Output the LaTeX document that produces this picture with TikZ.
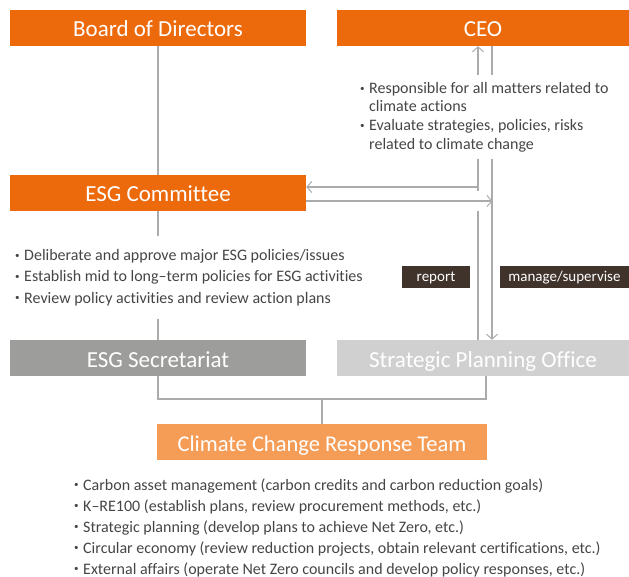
\documentclass[tikz,border=0pt]{standalone}
\usepackage{fontspec}
\setmainfont[Ligatures=NoCommon]{Carlito}
\usetikzlibrary{arrows.meta}
\definecolor{orangeA}{HTML}{EC6A0C}
\definecolor{orangeL}{HTML}{F59D57}
\definecolor{grayA}{HTML}{9D9D9B}
\definecolor{grayL}{HTML}{D0D0D0}
\definecolor{lineC}{HTML}{ABABAB}
\definecolor{txt}{HTML}{454545}
\definecolor{tagC}{HTML}{40332B}
\newcommand{\bdot}{\raisebox{2.6pt}{\fontsize{9}{10}\selectfont •}}
\begin{document}
\begin{tikzpicture}[x=1pt,y=-1pt,
  box/.style={minimum height=36pt, inner sep=0pt, text height=20pt, text depth=2pt, text=white, font=\fontsize{23}{26}\selectfont},
  tag/.style={minimum height=22pt, inner sep=0pt, text height=11pt, text depth=2pt, fill=tagC, text=white, font=\fontsize{15}{17}\selectfont},
  bul/.style={anchor=base west, inner sep=0pt, text=txt, font=\fontsize{16}{18}\selectfont},
  conn/.style={draw=lineC, line width=1.2pt},
  arr/.style={conn, -{Straight Barb[length=5pt,width=11pt,line width=1pt]}}]
\useasboundingbox (0,0) rectangle (629,577);
% boxes
\node[box, fill=orangeA, minimum width=296pt] (board) at (158,28) {Board of Directors};
\node[box, fill=orangeA, minimum width=292pt] (ceo) at (483,28) {CEO};
\node[box, fill=orangeA, minimum width=296pt] (esg) at (158,193) {ESG Committee};
\node[box, fill=grayA, minimum width=296pt] (sec) at (158,358) {ESG Secretariat};
\node[box, fill=grayL, minimum width=292pt] (spo) at (483,358) {Strategic Planning Office};
\node[box, fill=orangeL, minimum width=330pt, font=\fontsize{22.5}{26}\selectfont] (clim) at (322,442) {Climate Change Response Team};
% tags
\node[tag, minimum width=68pt] (rep) at (436,277) {report};
\node[tag, minimum width=129pt] (man) at (564.5,277) {manage/supervise};
% CEO bullets
\node[bul] (c1) at (360,94) {\bdot};
\node[bul] (c1t) at (369,94) {Responsible for all matters related to};
\node[bul] (c1u) at (369,112) {climate actions};
\node[bul] (c2) at (360,131) {\bdot};
\node[bul] (c2t) at (369,131) {Evaluate strategies, policies, risks};
\node[bul] (c2u) at (369,149.5) {related to climate change};
% ESG committee bullets
\node[bul] (e1) at (15,261) {\bdot};
\node[bul] (e1t) at (24,261) {Deliberate and approve major ESG policies/issues};
\node[bul] (e2) at (15,282) {\bdot};
\node[bul] (e2t) at (24,282) {Establish mid to long{\char"2013}term policies for ESG activities};
\node[bul] (e3) at (15,303) {\bdot};
\node[bul] (e3t) at (24,303) {Review policy activities and review action plans};
% team bullets
\node[bul] (t1) at (74,490) {\bdot};
\node[bul] (t1t) at (83,490) {Carbon asset management (carbon credits and carbon reduction goals)};
\node[bul] (t2) at (74,511) {\bdot};
\node[bul] (t2t) at (83,511) {K{\char"2013}RE100 (establish plans, review procurement methods, etc.)};
\node[bul] (t3) at (74,532) {\bdot};
\node[bul] (t3t) at (83,532) {Strategic planning (develop plans to achieve Net Zero, etc.)};
\node[bul] (t4) at (74,553) {\bdot};
\node[bul] (t4t) at (83,553) {Circular economy (review reduction projects, obtain relevant certifications, etc.)};
\node[bul] (t5) at (74,574) {\bdot};
\node[bul] (t5t) at (83,574) {External affairs (operate Net Zero councils and develop policy responses, etc.)};
% coordinates
\coordinate (La) at (478,75);
\coordinate (Lb) at (478,159);
\coordinate (Lc) at (478,191);
\coordinate (Ld) at (478,211);
\coordinate (Le) at (478,187);
\coordinate (Ra) at (492,75);
\coordinate (Rb) at (492,159);
\coordinate (Rf) at (492,201);
\coordinate (Ea) at (158,236);
\coordinate (Eb) at (158,319);
\coordinate (J) at (322,399);
\coordinate (Sb) at (486,376);
% connectors
\draw[conn] (board.south) -- (esg.north);
\draw[conn] (esg.south) -- (Ea);
\draw[conn] (Eb) -- (sec.north);
\draw[arr] (La) -- (La |- ceo.south);
\draw[conn] (Ra |- ceo.south) -- (Ra);
\draw[conn] (Lb) -- (Lc);
\draw[conn] (Ld |- spo.north) -- (Ld);
\draw[arr] (Le) -- (Le -| esg.east);
\draw[arr] (Rf -| esg.east) -- ([xshift=0.6pt]Rf);
\draw[arr] (Rb) -- (Rb |- spo.north);
\draw[conn] (sec.south) |- (J) -| (Sb);
\draw[conn] (J) -- (clim.north);
\end{tikzpicture}
\end{document}
